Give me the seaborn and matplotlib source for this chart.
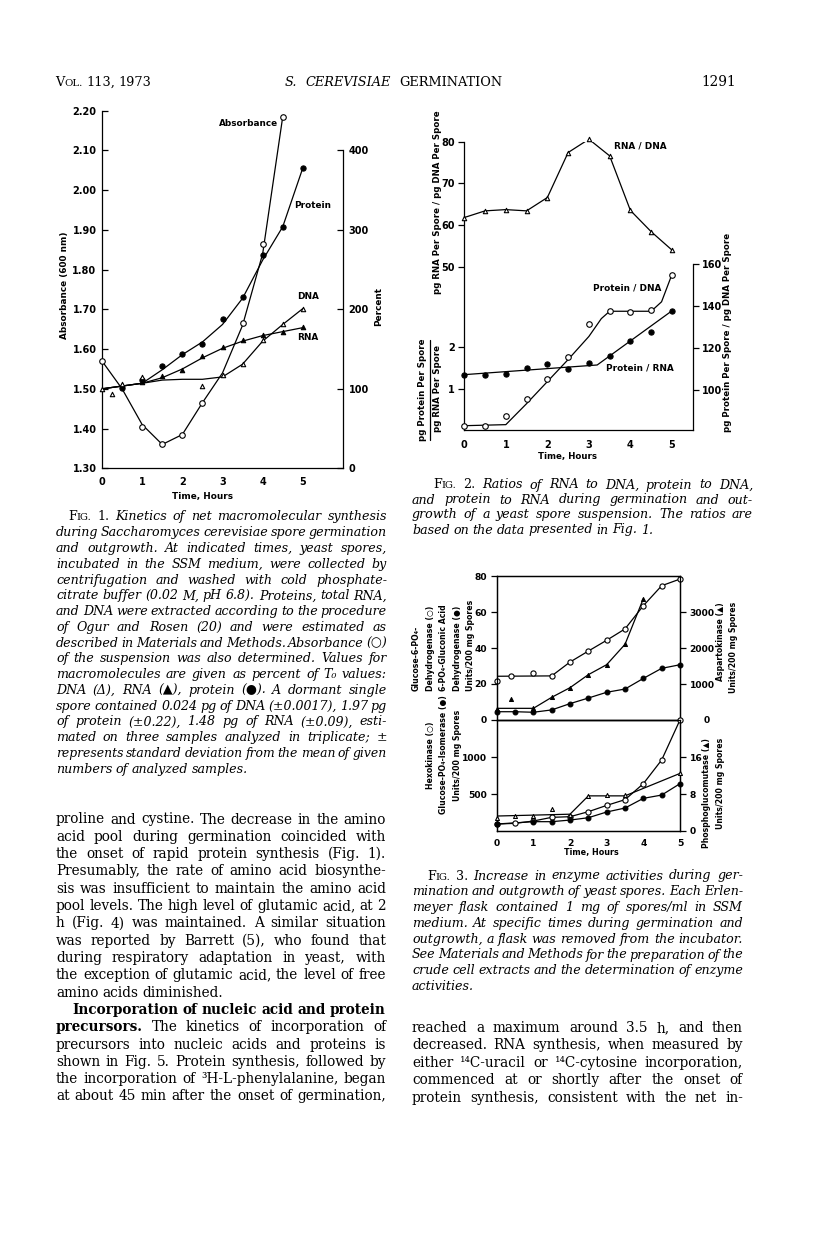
import matplotlib
matplotlib.use("Agg")
import matplotlib.pyplot as plt
from matplotlib.lines import Line2D
import seaborn as sns

# ---------------- Fig. 1 data ----------------
f1_abs_t = [0, 1, 1.5, 2, 2.5, 3.5, 4, 4.5]
f1_abs = [1.57, 1.405, 1.36, 1.385, 1.465, 1.665, 1.865, 2.185]
f1_abs_fit_t = [0, 0.5, 1, 1.5, 2, 2.5, 3, 3.5, 4, 4.5]
f1_abs_fit = [1.57, 1.50, 1.41, 1.36, 1.385, 1.465, 1.54, 1.66, 1.84, 2.185]

f1_prot_t = [0.5, 1, 1.5, 2, 2.5, 3, 3.5, 4, 4.5, 5]
f1_prot = [101, 111, 129, 144, 157, 188, 215, 268, 304, 378]
f1_prot_fit_t = [0, 1, 1.5, 2, 2.5, 3, 3.5, 4, 4.5, 5]
f1_prot_fit = [100, 107, 124, 143, 159, 181, 214, 262, 304, 378]

f1_rna_t = [0.5, 1, 1.5, 2, 2.5, 3, 3.5, 4, 4.5, 5]
f1_rna = [105, 109, 116, 124, 141, 153, 162, 168, 172, 178]
f1_rna_fit_t = [0, 1, 1.5, 2, 2.5, 3, 3.5, 4, 4.5, 5]
f1_rna_fit = [100, 107, 114, 125, 139, 151, 160, 167, 172, 177]

f1_dna_t = [0, 0.25, 0.5, 1, 2.5, 3, 3.5, 4, 4.5, 5]
f1_dna = [100, 93, 106, 115, 103, 117, 131, 162, 181, 201]
f1_dna_fit_t = [0, 1, 1.5, 2, 2.5, 3, 3.5, 4, 4.5, 5]
f1_dna_fit = [100, 107, 111, 112, 112, 115, 131, 160, 181, 201]

f1_abs_ticks = [1.30, 1.40, 1.50, 1.60, 1.70, 1.80, 1.90, 2.00, 2.10, 2.20]
f1_pct_ticks = [0, 100, 200, 300, 400]

# ---------------- Fig. 2 data ----------------
f2_t = [0, 0.5, 1, 1.5, 2, 2.5, 3, 3.5, 4, 4.5, 5]
f2_rna_dna = [61.8, 63.4, 63.7, 63.4, 66.6, 77.4, 80.6, 76.6, 63.5, 58.4, 54.0]
f2_prot_rna = [1.35, 1.33, 1.37, 1.51, 1.60, 1.49, 1.63, 1.79, 2.16, 2.37, 2.87]
f2_prot_rna_fit_t = [0, 3.2, 5]
f2_prot_rna_fit = [1.35, 1.58, 2.87]
f2_prot_dna = [82.9, 82.9, 87.8, 95.6, 105.4, 115.9, 131.3, 137.6, 137.3, 138.1, 154.8]
f2_prot_dna_fit_t = [0, 1, 1.5, 2, 2.5, 3, 3.3, 3.5, 4, 4.5, 4.75, 5]
f2_prot_dna_fit = [83, 83.5, 93.5, 104, 114.5, 125.5, 134, 137.5, 137.5, 137.5, 142, 155]

# ---------------- Fig. 3 data ----------------
f3_g6pdh_t = [0, 0.4, 1, 1.5, 2, 2.5, 3, 3.5, 4, 4.5, 5]
f3_g6pdh = [21.5, 24.3, 26.3, 24.6, 32.2, 38.3, 44.3, 50.6, 63.5, 74.6, 78.3]
f3_g6pdh_fit_t = [0, 1.5, 2, 2.5, 3, 3.5, 4, 4.5, 5]
f3_g6pdh_fit = [24.3, 24.5, 32.2, 38.3, 44.3, 50.6, 63.5, 74.6, 78.3]
f3_t = [0, 0.5, 1, 1.5, 2, 2.5, 3, 3.5, 4, 4.5, 5]
f3_6pgdh = [4.6, 4.6, 4.3, 5.6, 9.1, 12.2, 15.4, 17.2, 23.1, 28.7, 30.7]
f3_asp_t = [0, 0.4, 1, 1.5, 2, 2.5, 3, 3.5, 4]
f3_asp = [305, 574, 324, 630, 898, 1259, 1537, 2102, 3370]
f3_asp_fit_t = [0, 1, 1.5, 2, 2.5, 3, 3.5, 4]
f3_asp_fit = [324, 324, 630, 898, 1259, 1537, 2102, 3370]

f3_hexo = [91, 100, 132, 182, 191, 259, 345, 423, 641, 964, 1510]
f3_gpi_t = [0, 1, 1.5, 2, 2.5, 3, 3.5, 4, 4.5, 5]
f3_gpi = [91, 123, 123, 145, 177, 255, 309, 441, 486, 641]
f3_pgm_t = [0, 0.5, 1, 1.5, 2, 2.5, 3, 3.5, 5]
f3_pgm = [2.7, 3.1, 3.1, 4.65, 3.5, 7.6, 7.8, 7.7, 12.5]
f3_pgm_fit_t = [0, 2, 2.5, 3.5, 5]
f3_pgm_fit = [3.2, 3.6, 7.6, 7.6, 12.5]

hours = [0, 1, 2, 3, 4, 5]

# ---------------- page text ----------------
fig1_caption = [
    [("F", "rm"), ("IG.", "sc"), (" 1. ", "rm"), ("Kinetics of net macromolecular synthesis", "it")],
    "during Saccharomyces cerevisiae spore germination",
    "and outgrowth. At indicated times, yeast spores,",
    "incubated in the SSM medium, were collected by",
    "centrifugation and washed with cold phosphate-",
    "citrate buffer (0.02 M, pH 6.8). Proteins, total RNA,",
    "and DNA were extracted according to the procedure",
    "of Ogur and Rosen (20) and were estimated as",
    "described in Materials and Methods. Absorbance (○)",
    "of the suspension was also determined. Values for",
    "macromolecules are given as percent of T₀ values:",
    "DNA (Δ), RNA (▲), protein (●). A dormant single",
    "spore contained 0.024 pg of DNA (±0.0017), 1.97 pg",
    "of protein (±0.22), 1.48 pg of RNA (±0.09), esti-",
    "mated on three samples analyzed in triplicate; ±",
    "represents standard deviation from the mean of given",
    "numbers of analyzed samples.",
]
left_body = [
    "proline and cystine. The decrease in the amino",
    "acid pool during germination coincided with",
    "the onset of rapid protein synthesis (Fig. 1).",
    "Presumably, the rate of amino acid biosynthe-",
    "sis was insufficient to maintain the amino acid",
    "pool levels. The high level of glutamic acid, at 2",
    "h (Fig. 4) was maintained. A similar situation",
    "was reported by Barrett (5), who found that",
    "during respiratory adaptation in yeast, with",
    "the exception of glutamic acid, the level of free",
    "amino acids diminished.",
    [("Incorporation of nucleic acid and protein", "bf")],
    [("precursors.", "bf"), (" The kinetics of incorporation of", "rm")],
    "precursors into nucleic acids and proteins is",
    "shown in Fig. 5. Protein synthesis, followed by",
    "the incorporation of ³H-L-phenylalanine, began",
    "at about 45 min after the onset of germination,",
]
fig2_caption = [
    [("F", "rm"), ("IG.", "sc"), (" 2. ", "rm"), ("Ratios of RNA to DNA, protein to DNA,", "it")],
    "and protein to RNA during germination and out-",
    "growth of a yeast spore suspension. The ratios are",
    "based on the data presented in Fig. 1.",
]
fig3_caption = [
    [("F", "rm"), ("IG.", "sc"), (" 3. ", "rm"), ("Increase in enzyme activities during ger-", "it")],
    "mination and outgrowth of yeast spores. Each Erlen-",
    "meyer flask contained 1 mg of spores/ml in SSM",
    "medium. At specific times during germination and",
    "outgrowth, a flask was removed from the incubator.",
    "See Materials and Methods for the preparation of the",
    "crude cell extracts and the determination of enzyme",
    "activities.",
]
right_body = [
    "reached a maximum around 3.5 h, and then",
    "decreased. RNA synthesis, when measured by",
    "either ¹⁴C-uracil or ¹⁴C-cytosine incorporation,",
    "commenced at or shortly after the onset of",
    "protein synthesis, consistent with the net in-",
]

# ---------------- setup ----------------
sns.set_theme(style="white")
plt.rcParams["font.family"] = ["DejaVu Sans"]
plt.rcParams["font.weight"] = "bold"
plt.rcParams["text.color"] = "black"
plt.rcParams["axes.labelcolor"] = "black"
plt.rcParams["axes.edgecolor"] = "black"
plt.rcParams["axes.linewidth"] = 0.9
for k in ["xtick", "ytick"]:
    plt.rcParams[k + ".color"] = "black"
    plt.rcParams[k + ".labelcolor"] = "black"
    plt.rcParams[k + ".major.width"] = 0.9

W, H = 816, 1234
fig = plt.figure(figsize=(W / 100, H / 100), dpi=100)
fig.patch.set_facecolor("white")
R = fig.canvas.get_renderer()


def box(l, t, r, b):
    return [l / W, 1 - b / H, (r - l) / W, (b - t) / H]


def curve(ax, t, v):
    sns.lineplot(x=t, y=v, ax=ax, color="black", linewidth=0.9,
                 estimator=None, sort=False, legend=False)


def marks(ax, t, v, m="o", fill=False, s=14):
    sns.scatterplot(x=t, y=v, ax=ax, marker=m, s=s, color="black",
                    facecolor="black" if fill else "white", edgecolor="black",
                    linewidth=0.8, zorder=5, clip_on=False, legend=False)


def label(x, y, s, size=6.2, rot=0, ha="center", va="center"):
    fig.text(x / W, 1 - y / H, s, fontsize=size, rotation=rot, ha=ha, va=va,
             fontweight="bold", family=["DejaVu Sans"], color="black")


def clean(ax):
    ax.set_xlabel("")
    ax.set_ylabel("")
    ax.grid(False)
    ax.patch.set_alpha(0)


# ---------------- Fig. 1 ----------------
ax1 = fig.add_axes(box(102, 110.7, 343, 468.3))
ax1r = ax1.twinx()
curve(ax1, f1_abs_fit_t, f1_abs_fit)
marks(ax1, f1_abs_t, f1_abs, "o", False, 16)
curve(ax1r, f1_prot_fit_t, f1_prot_fit)
marks(ax1r, f1_prot_t, f1_prot, "o", True, 14)
curve(ax1r, f1_rna_fit_t, f1_rna_fit)
marks(ax1r, f1_rna_t, f1_rna, "^", True, 10)
curve(ax1r, f1_dna_fit_t, f1_dna_fit)
marks(ax1r, f1_dna_t, f1_dna, "^", False, 10)
ax1.set_xlim(0, 6)
ax1.set_ylim(1.30, 2.20)
ax1r.set_ylim(0, 450)
ax1.set_xticks(hours)
ax1.set_yticks(f1_abs_ticks)
ax1.set_yticklabels(["%.2f" % v for v in f1_abs_ticks])
ax1r.set_yticks(f1_pct_ticks)
for a in (ax1, ax1r):
    clean(a)
    a.tick_params(direction="in", length=4, labelsize=7, pad=4)
    a.spines["top"].set_visible(False)
ax1.spines["right"].set_visible(False)
for sp in ["left", "bottom"]:
    ax1r.spines[sp].set_visible(False)
ax1r.spines["right"].set_bounds(0, 400)
ax1.tick_params(axis="x", pad=6)
label(65, 285, "Absorbance (600 nm)", size=6.4, rot=90)
label(379, 307, "Percent", size=6.4, rot=90)
label(202, 497, "Time, Hours", size=6.4)
label(249, 123, "Absorbance", size=6.4)
label(313, 205, "Protein", size=6.4)
label(308, 297, "DNA", size=6.4)
label(308, 338, "RNA", size=6.4)

# ---------------- Fig. 2 ----------------
ax2 = fig.add_axes(box(464.3, 141.7, 692.7, 430))
ax2b = ax2.twinx()
ax2c = ax2.twinx()
curve(ax2, f2_t, f2_rna_dna)
marks(ax2, f2_t, f2_rna_dna, "^", False, 10)
curve(ax2b, f2_prot_rna_fit_t, f2_prot_rna_fit)
marks(ax2b, f2_t, f2_prot_rna, "o", True, 14)
curve(ax2c, f2_prot_dna_fit_t, f2_prot_dna_fit)
marks(ax2c, f2_t, f2_prot_dna, "o", False, 16)
ax2.set_xlim(0, 5.5)
ax2.set_ylim(10.8, 80)
ax2b.set_ylim(0.032, 6.897)
ax2c.set_ylim(80.95, 218.25)
ax2.set_xticks(hours)
ax2.set_yticks([50, 60, 70, 80])
ax2b.yaxis.tick_left()
ax2b.set_yticks([1, 2])
ax2c.set_yticks([100, 120, 140, 160])
for a in (ax2, ax2b, ax2c):
    clean(a)
    a.tick_params(direction="out", length=4, labelsize=7, pad=3)
    a.spines["top"].set_visible(False)
ax2.spines["right"].set_visible(False)
for sp in ["left", "right", "bottom"]:
    ax2b.spines[sp].set_visible(False)
for sp in ["left", "bottom"]:
    ax2c.spines[sp].set_visible(False)
ax2c.spines["right"].set_bounds(80.95, 160)
label(437, 202, "pg RNA Per Spore / pg DNA Per Spore", rot=90)
label(422, 390, "pg Protein Per Spore", rot=90)
label(438, 389, "pg RNA Per Spore", rot=90)
fig.add_artist(Line2D([430 / W, 430 / W], [1 - 340 / H, 1 - 440 / H], color="black", lw=0.9))
label(728, 332, "pg Protein Per Spore / pg DNA Per Spore", rot=90)
label(568, 457, "Time, Hours")
label(640, 146, "RNA / DNA", size=6.4)
label(627, 288, "Protein / DNA", size=6.4)
label(640, 368, "Protein / RNA", size=6.4)

# ---------------- Fig. 3 ----------------
ax3u = fig.add_axes(box(496.7, 576, 680, 720))
ax3ur = ax3u.twinx()
curve(ax3u, f3_g6pdh_fit_t, f3_g6pdh_fit)
marks(ax3u, f3_g6pdh_t, f3_g6pdh, "o", False, 14)
curve(ax3u, f3_t, f3_6pgdh)
marks(ax3u, f3_t, f3_6pgdh, "o", True, 12)
curve(ax3ur, f3_asp_fit_t, f3_asp_fit)
marks(ax3ur, f3_asp_t, f3_asp, "^", True, 8)
ax3u.set_xlim(0, 5)
ax3u.set_ylim(0, 80)
ax3ur.set_ylim(0, 4000)
ax3u.set_xticks([])
ax3u.set_yticks([0, 20, 40, 60, 80])
ax3ur.set_yticks([1000, 2000, 3000])

ax3l = fig.add_axes(box(496.7, 720, 680, 830.7))
ax3lr = ax3l.twinx()
curve(ax3l, f3_t, f3_hexo)
marks(ax3l, f3_t, f3_hexo, "o", False, 14)
curve(ax3l, f3_gpi_t, f3_gpi)
marks(ax3l, f3_gpi_t, f3_gpi, "o", True, 12)
curve(ax3lr, f3_pgm_fit_t, f3_pgm_fit)
marks(ax3lr, f3_pgm_t, f3_pgm, "^", False, 8)
ax3l.set_xlim(0, 5)
ax3l.set_ylim(0, 1509)
ax3lr.set_ylim(0, 24.15)
ax3l.set_xticks(hours)
ax3l.set_yticks([500, 1000])
ax3lr.set_yticks([0, 8, 16])
for a in (ax3u, ax3ur, ax3l, ax3lr):
    clean(a)
    a.tick_params(direction="out", length=4, labelsize=6.6, pad=3)
ax3l.tick_params(axis="x", pad=2)
label(707, 720.5, "0", size=6.6)
label(591, 852, "Time, Hours", size=5.8)
for x, s in [(416, "Glucose-6-PO₄-"), (430.7, "Dehydrogenase (○)"),
             (444, "6-PO₄-Gluconic Acid"), (457.7, "Dehydrogenase (●)"),
             (471, "Units/200 mg Spores")]:
    label(x, 691, s, size=5.6, rot=90, va="bottom")
for x, s in [(430.7, "Hexokinase (○)"), (444, "Glucose-PO₄-Isomerase (●)"),
             (457.7, "Units/200 mg Spores")]:
    label(x, 755, s, size=5.6, rot=90)
for x, s in [(720.7, "Aspartokinase (▲)"), (734, "Units/200 mg Spores")]:
    label(x, 602, s, size=5.6, rot=90, va="top")
for x, s in [(706.7, "Phosphoglucomutase (▲)"), (720.7, "Units/200 mg Spores")]:
    label(x, 738, s, size=5.6, rot=90, va="top")

# ---------------- running text ----------------
SERIF = ["DejaVu Serif", "DejaVu Sans"]
STY = {
    "rm": dict(style="normal", weight="normal", k=1.0),
    "sc": dict(style="normal", weight="normal", k=0.78),
    "it": dict(style="italic", weight="normal", k=1.0),
    "bf": dict(style="normal", weight="bold", k=1.0),
}


def words_of(segs):
    words = [[]]
    for txt, st in segs:
        for i, p in enumerate(txt.split(" ")):
            if i > 0:
                words.append([])
            if p:
                words[-1].append((p, st))
    return [w for w in words if w]


def put_line(segs, x0, x1, y, size, default, justify=True):
    if isinstance(segs, str):
        segs = [(segs, default)]
    words = words_of(segs)
    while True:
        items = []
        for word in words:
            arts = []
            for txt, st in word:
                d = STY[st]
                a = fig.text(0, 0, txt, fontsize=size * d["k"], fontstyle=d["style"],
                             fontweight=d["weight"], family=SERIF, va="baseline",
                             ha="left", color="black")
                arts.append((a, a.get_window_extent(renderer=R).width))
            items.append((arts, sum(w for _, w in arts)))
        total = sum(w for _, w in items)
        space = size * 100 / 72 * 0.28
        if justify and len(items) > 1:
            gap = (x1 - x0 - total) / (len(items) - 1)
        else:
            gap = space
        if gap >= space * 0.6 or size < 5:
            break
        for arts, _ in items:
            for a, _ in arts:
                a.remove()
        size *= 0.98
    x = x0
    for arts, _ in items:
        for a, w in arts:
            a.set_position((x / W, 1 - y / H))
            x += w
        x += gap


def block(lines, x0, x1, y0, step, size, default, indent=None, last=()):
    for i, ln in enumerate(lines):
        xs = indent.get(i, x0) if indent else x0
        put_line(ln, xs, x1, y0 + i * step + 3.5, size, default, justify=i not in last)


# running head
put_line([("V", "rm"), ("OL.", "sc"), (" 113, 1973", "rm")], 55, 150, 86, 9.3, "rm", justify=False)
put_line([("S. CEREVISIAE", "it"), (" GERMINATION", "rm")], 285, 502, 86, 9.3, "rm")
put_line("1291", 701, 742, 86, 9.8, "rm")

block(fig1_caption, 56, 387, 517, 15.76, 9.1, "it", indent={0: 68}, last=(16,))
block(left_body, 56, 386, 820, 17.31, 9.8, "rm", indent={11: 72}, last=(10,))
block(fig2_caption, 412, 753, 485, 15.0, 9.1, "it", indent={0: 433}, last=(3,))
block(fig3_caption, 412, 743, 876, 15.8, 9.1, "it", indent={0: 427}, last=(7,))
block(right_body, 412, 743, 1028.3, 17.5, 9.8, "rm")

fig.savefig("out.png", dpi=100, facecolor="white")
